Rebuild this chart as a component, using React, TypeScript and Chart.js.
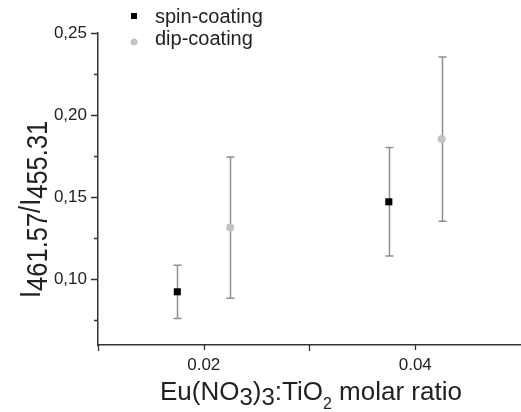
import React, { useEffect, useRef } from 'react';
import { Chart, registerables } from 'chart.js';

Chart.register(...registerables);

// ---- data ----
const seriesNames = ['spin-coating', 'dip-coating'];
const spinX = [0.0175, 0.0375];
const spinY = [0.0924, 0.1472];
const spinErr = [0.0162, 0.033];
const dipX = [0.0225, 0.0425];
const dipY = [0.1315, 0.1854];
const dipErr = [0.043, 0.05];
const yMajorTicks = [0.1, 0.15, 0.2, 0.25];
const yMinorTicks = [0.075, 0.125, 0.175, 0.225];
const xMajorTicks = [0.02, 0.04];
const xMinorTicks = [0.01, 0.03];
const xRange = [0.01, 0.05];
const yRange = [0.06, 0.25];

const FONT = "'Liberation Sans', Arial, sans-serif";
const TEXT = '#222';
const AXIS = '#333';
const SPIN_COLOR = '#000000';
const DIP_COLOR = '#c4c4c4';
const ERR_COLOR = '#8f8f8f';

type Part = { t: string; size: number; dy: number };

function drawRich(ctx: CanvasRenderingContext2D, parts: Part[], x: number, y: number) {
  let cx = x;
  for (const p of parts) {
    ctx.font = `${p.size}px ${FONT}`;
    ctx.fillText(p.t, cx, y + p.dy);
    cx += ctx.measureText(p.t).width;
  }
}

const decorPlugin = {
  id: 'decor',
  beforeDatasetsDraw(chart: any) {
    const ctx = chart.ctx as CanvasRenderingContext2D;
    const xs = chart.scales.x;
    const ys = chart.scales.y;
    const errs = [spinErr, dipErr];
    ctx.save();
    ctx.strokeStyle = ERR_COLOR;
    ctx.lineWidth = 1.5;
    chart.data.datasets.forEach((ds: any, i: number) => {
      ds.data.forEach((pt: any, j: number) => {
        const e = errs[i][j];
        const px = Math.round(xs.getPixelForValue(pt.x)) + 0.5;
        const t = ys.getPixelForValue(pt.y + e);
        const b = ys.getPixelForValue(pt.y - e);
        ctx.beginPath();
        ctx.moveTo(px, t);
        ctx.lineTo(px, b);
        ctx.moveTo(px - 4, t);
        ctx.lineTo(px + 4, t);
        ctx.moveTo(px - 4, b);
        ctx.lineTo(px + 4, b);
        ctx.stroke();
      });
    });
    ctx.restore();
  },
  afterDraw(chart: any) {
    const ctx = chart.ctx as CanvasRenderingContext2D;
    const xs = chart.scales.x;
    const ys = chart.scales.y;
    const area = chart.chartArea;
    ctx.save();
    // tick marks
    ctx.strokeStyle = AXIS;
    ctx.lineWidth = 1.3;
    ctx.beginPath();
    yMajorTicks.forEach((v) => {
      const py = Math.round(ys.getPixelForValue(v)) + 0.5;
      ctx.moveTo(area.left, py);
      ctx.lineTo(area.left - 7, py);
    });
    yMinorTicks.forEach((v) => {
      const py = Math.round(ys.getPixelForValue(v)) + 0.5;
      ctx.moveTo(area.left, py);
      ctx.lineTo(area.left - 4, py);
    });
    xMajorTicks.forEach((v) => {
      const px = Math.round(xs.getPixelForValue(v)) + 0.5;
      ctx.moveTo(px, area.bottom);
      ctx.lineTo(px, area.bottom + 5);
    });
    xMinorTicks.forEach((v) => {
      const px = Math.round(xs.getPixelForValue(v)) + 0.5;
      ctx.moveTo(px, area.bottom);
      ctx.lineTo(px, area.bottom + 6);
    });
    ctx.stroke();

    // legend
    ctx.fillStyle = SPIN_COLOR;
    ctx.fillRect(131, 13, 6, 6);
    ctx.fillStyle = DIP_COLOR;
    ctx.beginPath();
    ctx.arc(134, 42, 3.5, 0, Math.PI * 2);
    ctx.fill();
    ctx.fillStyle = TEXT;
    ctx.textBaseline = 'alphabetic';
    ctx.textAlign = 'left';
    ctx.font = `20px ${FONT}`;
    ctx.fillText(seriesNames[0], 155, 23);
    ctx.fillText(seriesNames[1], 155, 45);

    // x title
    drawRich(
      ctx,
      [
        { t: 'Eu(NO', size: 26, dy: 0 },
        { t: '3', size: 24, dy: 5 },
        { t: ')', size: 26, dy: 0 },
        { t: '3', size: 24, dy: 5 },
        { t: ':TiO', size: 26, dy: 0 },
        { t: '2', size: 16, dy: 9 },
        { t: ' molar ratio', size: 26, dy: 0 },
      ],
      160,
      400
    );

    // y title
    ctx.translate(40, 298);
    ctx.rotate(-Math.PI / 2);
    ctx.scale(0.85, 1);
    drawRich(
      ctx,
      [
        { t: 'I', size: 30, dy: 0 },
        { t: '461.57', size: 30, dy: 7 },
        { t: '/I', size: 30, dy: 0 },
        { t: '455.31', size: 30, dy: 7 },
      ],
      0,
      0
    );
    ctx.restore();
  },
};

export default function App() {
  const ref = useRef<HTMLCanvasElement | null>(null);
  useEffect(() => {
    if (!ref.current) return;
    const chart = new Chart(ref.current, {
      type: 'scatter',
      data: {
        datasets: [
          {
            label: seriesNames[0],
            data: spinX.map((x, i) => ({ x, y: spinY[i] })),
            pointStyle: 'rect',
            pointRadius: 5,
            pointBackgroundColor: SPIN_COLOR,
            pointBorderColor: SPIN_COLOR,
            pointBorderWidth: 0,
          },
          {
            label: seriesNames[1],
            data: dipX.map((x, i) => ({ x, y: dipY[i] })),
            pointStyle: 'circle',
            pointRadius: 4,
            pointBackgroundColor: DIP_COLOR,
            pointBorderColor: DIP_COLOR,
            pointBorderWidth: 0,
          },
        ],
      },
      options: {
        responsive: false,
        animation: false,
        layout: { autoPadding: false, padding: { top: 33, right: 0, left: 0, bottom: 0 } },
        plugins: { legend: { display: false }, tooltip: { enabled: false } },
        scales: {
          x: {
            type: 'linear',
            min: xRange[0],
            max: xRange[1],
            afterBuildTicks: (s: any) => {
              s.ticks = xMajorTicks.map((v) => ({ value: v }));
            },
            afterFit: (s: any) => {
              s.height = 67;
              s.paddingLeft = 0;
              s.paddingRight = 0;
            },
            grid: { display: false, drawTicks: false },
            border: { display: true, color: AXIS, width: 1.5 },
            ticks: {
              padding: 10,
              color: TEXT,
              font: { family: FONT, size: 17 },
              callback: (v: any) => Number(v).toFixed(2),
              autoSkip: false,
              maxRotation: 0,
            },
          },
          y: {
            type: 'linear',
            min: yRange[0],
            max: yRange[1],
            afterBuildTicks: (s: any) => {
              s.ticks = yMajorTicks.map((v) => ({ value: v }));
            },
            afterFit: (s: any) => {
              s.width = 98;
              s.paddingTop = 0;
              s.paddingBottom = 0;
            },
            grid: { display: false, drawTicks: false },
            border: { display: true, color: AXIS, width: 1.5 },
            ticks: {
              padding: 11,
              color: TEXT,
              font: { family: FONT, size: 17 },
              callback: (v: any) => Number(v).toFixed(2).replace('.', ','),
              autoSkip: false,
            },
          },
        },
      },
      plugins: [decorPlugin],
    });
    return () => chart.destroy();
  }, []);
  return (
    <div style={{ position: 'absolute', left: 0, top: 0, width: 521, height: 412, background: '#fff' }}>
      <canvas ref={ref} width={521} height={412} style={{ display: 'block' }} />
    </div>
  );
}
